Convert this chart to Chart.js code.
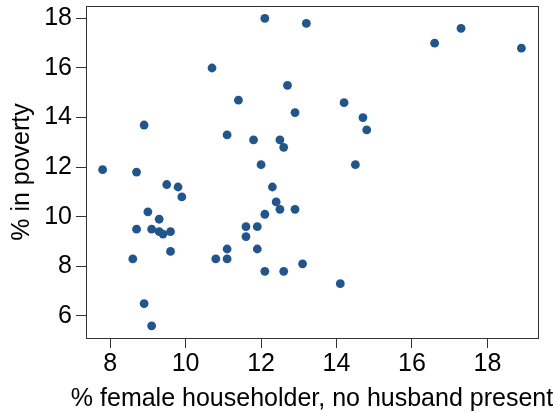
<!DOCTYPE html>
<html>
<head>
<meta charset="utf-8">
<script src="https://cdn.jsdelivr.net/npm/chart.js@4/dist/chart.umd.min.js"></script>
<style>
  html, body { margin: 0; padding: 0; background: #fff; }
  #wrap { width: 556px; height: 412px; }
</style>
</head>
<body>
<div id="wrap"><canvas id="scatter" width="556" height="412"></canvas></div>
<script>
// % female householder (no husband present) per state
const femaleHouseholder = [
  7.8, 8.7, 8.9, 9.5, 9.8, 9.9, 10.7, 11.4, 11.1, 11.8,
  12.1, 12.0, 12.3, 12.5, 12.6, 13.2, 16.6, 17.3, 18.9, 12.7,
  14.2, 12.9, 14.7, 14.8, 14.5, 12.4, 9.0, 9.3, 8.7, 9.1,
  9.3, 9.4, 9.6, 9.6, 8.6, 8.9, 9.1, 10.8, 11.1, 11.1,
  11.6, 11.6, 11.9, 11.9, 12.1, 12.1, 12.5, 12.9, 12.6, 13.1,
  14.1
];
// % in poverty, same order
const povertyRate = [
  11.9, 11.8, 13.7, 11.3, 11.2, 10.8, 16.0, 14.7, 13.3, 13.1,
  18.0, 12.1, 11.2, 13.1, 12.8, 17.8, 17.0, 17.6, 16.8, 15.3,
  14.6, 14.2, 14.0, 13.5, 12.1, 10.6, 10.2, 9.9, 9.5, 9.5,
  9.4, 9.3, 9.4, 8.6, 8.3, 6.5, 5.6, 8.3, 8.7, 8.3,
  9.6, 9.2, 9.6, 8.7, 10.1, 7.8, 10.3, 10.3, 7.8, 8.1,
  7.3
];
const xTicks = [8, 10, 12, 14, 16, 18];
const yTicks = [6, 8, 10, 12, 14, 16, 18];
const xLabel = '% female householder, no husband present';

const FONT = "'Liberation Sans', Arial, Helvetica, sans-serif";

// box around the plotting area, plus the x title (drawn here so it can
// run wider than the plot instead of being squeezed by the scale)
const frame = {
  id: 'frame',
  afterDraw(chart) {
    const { ctx, chartArea: a } = chart;
    ctx.save();
    ctx.strokeStyle = '#333';
    ctx.lineWidth = 1;
    ctx.strokeRect(a.left + 0.5, a.top + 0.5, a.right - a.left, a.bottom - a.top);

    ctx.fillStyle = '#000';
    ctx.font = '25px ' + FONT;
    ctx.textAlign = 'center';
    ctx.textBaseline = 'alphabetic';
    ctx.fillText(xLabel, (a.left + a.right) / 2, 406);
    ctx.restore();
  }
};

// keep edge tick labels from pushing the plot area inward
const noEdgePad = s => {
  s.paddingTop = 0; s.paddingBottom = 0;
  s.paddingLeft = 0; s.paddingRight = 0;
};

new Chart(document.getElementById('scatter'), {
  type: 'scatter',
  data: {
    datasets: [{
      data: femaleHouseholder.map((x, i) => ({ x, y: povertyRate[i] })),
      backgroundColor: '#22558b',
      borderWidth: 0,
      pointRadius: 4.4,
      pointHoverRadius: 4.4
    }]
  },
  options: {
    responsive: false,
    animation: false,
    layout: { padding: { top: 6, right: 18, left: 0, bottom: 0 } },
    plugins: { legend: { display: false }, tooltip: { enabled: false } },
    scales: {
      x: {
        min: 7.36, max: 19.34,
        afterBuildTicks: s => { s.ticks = xTicks.map(v => ({ value: v })); },
        afterFit: s => { s.height = 74; noEdgePad(s); },
        grid: { drawOnChartArea: false, tickLength: 10, color: '#333' },
        border: { color: '#333' },
        ticks: { color: '#000', padding: 1, font: { family: FONT, size: 25 }, maxRotation: 0 }
      },
      y: {
        min: 5.11, max: 18.5,
        afterBuildTicks: s => { s.ticks = yTicks.map(v => ({ value: v })); },
        afterFit: s => { s.width = 86; noEdgePad(s); },
        grid: { drawOnChartArea: false, tickLength: 10, color: '#333' },
        border: { color: '#333' },
        ticks: { color: '#000', padding: 4, font: { family: FONT, size: 25 } },
        title: {
          display: true, text: '% in poverty',
          color: '#000', font: { family: FONT, size: 25 }, padding: { top: 7, bottom: 0 }
        }
      }
    }
  },
  plugins: [frame]
});
</script>
</body>
</html>
